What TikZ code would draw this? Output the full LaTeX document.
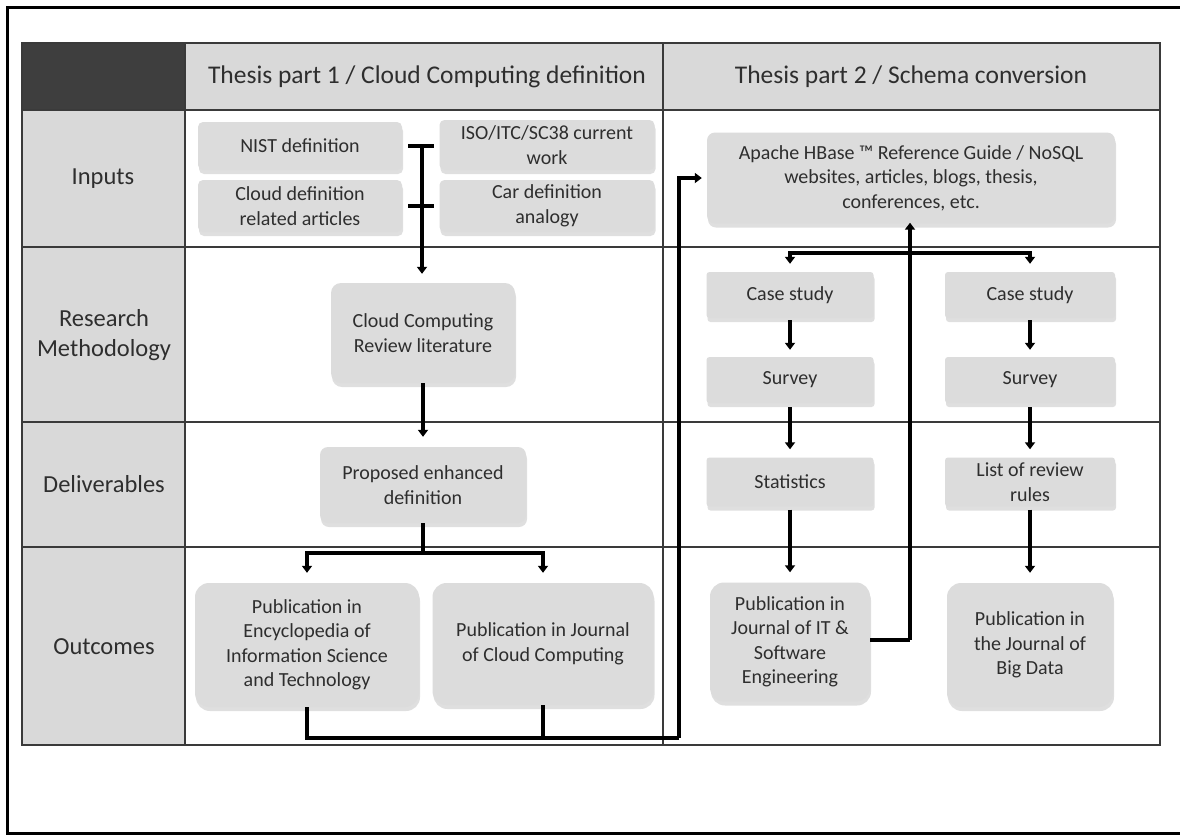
\documentclass[tikz,border=0pt]{standalone}
\usepackage{fontspec}
\setmainfont{Carlito}
\usetikzlibrary{arrows.meta,shadows}
\definecolor{boxgray}{HTML}{DCDCDC}
\definecolor{cellgray}{HTML}{D9D9D9}
\definecolor{darkcell}{HTML}{3E3E3E}
\definecolor{gridcol}{HTML}{3A3A3A}
\definecolor{txt}{HTML}{2E2E2E}
\begin{document}
\begin{tikzpicture}[x=1pt,y=-1pt,
  gridline/.style={draw=gridcol,line width=1.5pt},
  box/.style={rounded corners=5pt,fill=boxgray,draw=none,align=center,text=txt,
    inner sep=2pt,font=\fontsize{20}{24.5}\selectfont,
    drop shadow={shadow xshift=1pt,shadow yshift=-4pt,opacity=.25,fill=gray}},
  bigbox/.style={box,rounded corners=14pt},
  lbl/.style={align=center,text=txt,font=\fontsize{24.5}{30}\selectfont},
  hdr/.style={align=center,text=txt,font=\fontsize{25.5}{30}\selectfont},
  conn/.style={line width=3.2pt,draw=black},
  flow/.style={conn,-{Triangle[length=7pt,width=10pt]}}
]
\useasboundingbox (0,0) rectangle (1180,836);
\fill[white] (0,0) rectangle (1180,836);
% outer frame
\draw[line width=3pt] (1181,7) -- (7,7) -- (7,833) -- (1181,833);

% table fills
\fill[darkcell] (22,43) rectangle (185,110);
\fill[cellgray] (185,43) rectangle (1160,110);
\fill[cellgray] (22,110) rectangle (185,745);
% grid
\draw[gridline] (22,43) rectangle (1160,745);
\foreach \yy in {110,247,422,547} \draw[gridline] (22,\yy) -- (1160,\yy);
\draw[gridline] (185,43) -- (185,745);
\draw[gridline] (663,43) -- (663,745);

% header and row labels
\node[hdr] (h1) at (427,77) {Thesis part 1 / Cloud Computing definition};
\node[hdr] (h2) at (911,77) {Thesis part 2 / Schema conversion};
\node[lbl] (l1) at (103,179) {Inputs};
\node[lbl] (l2) at (104,335) {Research\\Methodology};
\node[lbl] (l3) at (104,484) {Deliverables};
\node[lbl] (l4) at (104,647) {Outcomes};

% part 1 nodes
\node[box,minimum width=204pt,minimum height=48pt] (nist) at (300,146) {NIST definition};
\node[box,minimum width=204pt,minimum height=52pt] (cda) at (300,206) {Cloud definition\\related articles};
\node[box,minimum width=215pt,minimum height=50pt] (iso) at (547,145) {ISO/ITC/SC38 current\\work};
\node[box,minimum width=215pt,minimum height=52pt] (car) at (547,206) {Car definition\\analogy};
\node[box,rounded corners=10pt,minimum width=184pt,minimum height=100pt] (ccrl) at (423,333) {Cloud Computing\\Review literature};
\node[box,rounded corners=8pt,minimum width=206pt,minimum height=76pt] (ped) at (423,485) {Proposed enhanced\\definition};
\node[bigbox,minimum width=224pt,minimum height=124pt] (enc) at (307,645) {Publication in\\Encyclopedia of\\Information Science\\and Technology};
\node[bigbox,minimum width=221pt,minimum height=122pt] (jcc) at (543,644) {Publication in Journal\\of Cloud Computing};

% part 2 nodes
\node[box,rounded corners=8pt,minimum width=408pt,minimum height=91pt] (apache) at (911,178) {Apache HBase ™ Reference Guide / NoSQL\\websites, articles, blogs, thesis,\\conferences, etc.};
\node[box,rounded corners=3pt,minimum width=167pt,minimum height=46pt] (cs1) at (790,295) {Case study};
\node[box,rounded corners=3pt,minimum width=170pt,minimum height=46pt] (cs2) at (1030,295) {Case study};
\node[box,rounded corners=3pt,minimum width=167pt,minimum height=46pt] (sv1) at (790,380) {Survey};
\node[box,rounded corners=3pt,minimum width=170pt,minimum height=46pt] (sv2) at (1030,380) {Survey};
\node[box,rounded corners=3pt,minimum width=167pt,minimum height=49pt] (st1) at (790,482) {Statistics};
\node[box,rounded corners=3pt,minimum width=170pt,minimum height=49pt] (lrr) at (1030,482) {List of review\\rules};
\node[bigbox,minimum width=160pt,minimum height=119pt] (jit) at (790,642) {Publication in\\Journal of IT \&\\Software\\Engineering};
\node[bigbox,minimum width=166pt,minimum height=124pt] (bd) at (1030,645) {Publication in\\the Journal of\\Big Data};

% connectors part 1
\coordinate (jtop) at (422,144);
\draw[conn,shorten <=6pt,shorten >=5pt] (nist.east) -- (nist.east -| iso.west);
\draw[conn,shorten <=6pt,shorten >=5pt] (cda.east |- car.west) -- (car.west);
\draw[flow,shorten >=9pt] (jtop) -- (jtop |- ccrl.north);
\draw[flow,shorten >=10pt] (ccrl.south) -- (ped.north);
\coordinate (s1) at (423,553);
\draw[conn] (ped.south) -- (s1);
\draw[flow,shorten >=10pt] (s1) -| (enc.north);
\draw[flow,shorten >=10pt] (s1) -| (jcc.north);
\coordinate (b1) at (679,738);
\draw[conn] (enc.south) |- (b1);
\draw[conn] (jcc.south) -- (jcc.south |- b1);
\draw[flow,shorten >=5pt] (b1) |- (apache.west);

% connectors part 2
\coordinate (up) at (910,640);
\draw[conn] (jit.east |- up) -- (up);
\draw[flow,shorten >=-1pt] (up) -- (up |- apache.south);
\coordinate (s2) at (910,253);
\draw[flow,shorten >=8pt] (s2) -| (cs1.north);
\draw[flow,shorten >=8pt] (s2) -| (cs2.north);
\draw[flow,shorten <=2pt,shorten >=7pt] (cs1.south) -- (sv1.north);
\draw[flow,shorten <=2pt,shorten >=7pt] (cs2.south) -- (sv2.north);
\draw[flow,shorten <=4pt,shorten >=8pt] (sv1.south) -- (st1.north);
\draw[flow,shorten <=4pt,shorten >=8pt] (sv2.south) -- (lrr.north);
\draw[flow,shorten <=3pt,shorten >=10pt] (st1.south) -- (jit.north);
\draw[flow,shorten <=3pt,shorten >=10pt] (lrr.south) -- (bd.north);
\end{tikzpicture}
\end{document}
